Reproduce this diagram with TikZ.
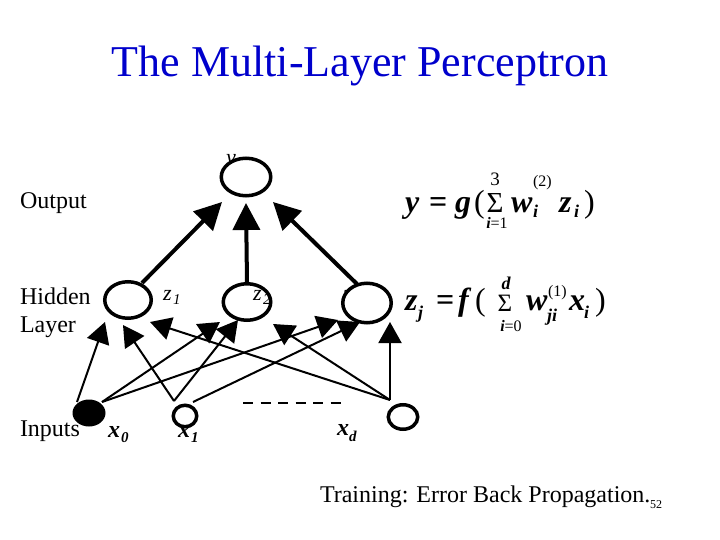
\documentclass[tikz,border=0pt]{standalone}
\usepackage{fontspec}
\setmainfont{Liberation Serif}
\usetikzlibrary{arrows.meta,calc,shapes.geometric}
\definecolor{titleblue}{RGB}{0,0,204}
\newcommand\setfs[1]{\fontsize{#1}{#1}\selectfont}
\newcommand\bi{\bfseries\itshape}
\begin{document}
\begin{tikzpicture}[x=1pt,y=-1pt,
  txt/.style={anchor=base west,inner sep=0pt,outer sep=0pt},
  ctxt/.style={anchor=base,inner sep=0pt,outer sep=0pt},
  neuron/.style={draw,ellipse,line width=3.5pt,fill=white,inner sep=0pt},
  inarrow/.style={line width=2pt,-{Triangle[length=21pt,width=23pt]}},
  outarrow/.style={line width=4pt,-{Triangle[length=27pt,width=27pt]}},
  dashline/.style={line width=2.5pt,dash pattern=on 10pt off 7.5pt},
]
\useasboundingbox (0,0) rectangle (720,540);

% title
\node[ctxt,text=titleblue] (title) at (360,77) {\setfs{44}The Multi-Layer Perceptron};

% layer labels
\node[txt] (lout) at (20,208) {\setfs{24}Output};
\node[txt] (lhid) at (20,304) {\setfs{24}Hidden};
\node[txt] (llay) at (20,332) {\setfs{24}Layer};
\node[txt] (linp) at (20,436) {\setfs{24}Inputs};

% labels partly covered by the circles
\node[txt] (ylab) at (226,165) {\setfs{22}\itshape y};
\node[txt] (z3lab) at (343,300) {\setfs{22}\itshape z};
\node[txt] (z3sub) at (353,304) {\setfs{15}\itshape 3};
\node[txt] (x0lab) at (108,437) {\setfs{24}\bi x};
\node[txt] (x0sub) at (121,442) {\setfs{15}\bi 0};
\node[txt] (x1lab) at (178,437) {\setfs{24}\bi x};
\node[txt] (x1sub) at (191,442) {\setfs{15}\bi 1};
\node[txt] (xdlab) at (337,435) {\setfs{24}\bi x};
\node[txt] (xdsub) at (349,441) {\setfs{15}\bi d};

% neurons
\node[neuron,minimum width=49.5,minimum height=37.5] (y) at (246,177) {};
\node[neuron,minimum width=46.5,minimum height=36.5] (z1) at (128,300) {};
\node[neuron,minimum width=47.5,minimum height=36.5] (z2) at (247,302) {};
\node[neuron,minimum width=48.5,minimum height=39.5] (z3) at (367,303) {};
\node[ellipse,fill=black,inner sep=0pt,minimum width=33,minimum height=27] (x0) at (89,413) {};
\node[neuron,minimum width=23.5,minimum height=21.5] (x1) at (185,416) {};
\node[neuron,minimum width=29.5,minimum height=24.5] (xd) at (403,417) {};

% hidden labels in front
\node[txt] (z1lab) at (163,300) {\setfs{22}\itshape z};
\node[txt] (z1sub) at (173,304) {\setfs{15}\itshape 1};
\node[txt] (z2lab) at (253,300) {\setfs{22}\itshape z};
\node[txt] (z2sub) at (263,304) {\setfs{15}\itshape 2};

% dashes between inputs
\coordinate (dashL) at (243,403);
\coordinate (dashR) at (342,403);
\draw[dashline] (dashL) -- (dashR);

% input -> hidden
\draw[inarrow] ($(x0)+(-12,-11)$) -- ($(z1)+(-23,22)$);
\draw[inarrow] ($(x0)+(13,-11)$) -- ($(z2)+(-27,20)$);
\draw[inarrow] ($(x0)+(13,-11)$) -- ($(z3)+(-29,17)$);
\draw[inarrow] ($(x1)+(-11,-15)$) -- ($(z1)+(-5,25)$);
\draw[inarrow] ($(x1)+(-11,-15)$) -- ($(z2)+(-9,18)$);
\draw[inarrow] ($(x1)+(8,-14)$) -- ($(z3)+(-7,19)$);
\draw[inarrow] ($(xd)+(-13,-17)$) -- ($(z1)+(22,22)$);
\draw[inarrow] ($(xd)+(-13,-17)$) -- ($(z2)+(26,22)$);
\draw[inarrow] ($(xd)+(-13,-17)$) -- ($(z3)+(23,19)$);

% hidden -> output
\draw[outarrow] ($(z1)+(14,-17)$) -- ($(y)+(-24,25)$);
\draw[outarrow] ($(z2)+(0,-20)$) -- ($(y)+(0,26)$);
\draw[outarrow] ($(z3)+(-10,-19)$) -- ($(y)+(27,25)$);

% formula 1
\node[txt] (f1y) at (405,212) {\setfs{32}\bi y};
\node[txt] (f1eq) at (429,212) {\setfs{32}\bfseries =};
\node[txt] (f1g) at (455,212) {\setfs{32}\bi g};
\node[txt] (f1lp) at (474,212) {\setfs{32}(};
\node[ctxt] (f1s) at (495,212) {\setfs{29}Σ};
\node[ctxt] (f1top) at (495,186) {\setfs{19}3};
\node[ctxt] (f1bot) at (497,229) {\setfs{16}{\bi i}=1};
\node[txt] (f1w) at (511,212) {\setfs{32}\bi w};
\node[txt] (f1sup) at (533,187) {\setfs{16}(2)};
\node[txt] (f1wsub) at (533,218) {\setfs{18}\bi i};
\node[txt] (f1z) at (559,212) {\setfs{32}\bi z};
\node[txt] (f1zsub) at (574,218) {\setfs{18}\bi i};
\node[txt] (f1rp) at (584,212) {\setfs{32})};

% formula 2
\node[txt] (f2z) at (405,310) {\setfs{32}\bi z};
\node[txt] (f2zsub) at (418,318) {\setfs{18}\bi j};
\node[txt] (f2eq) at (436,310) {\setfs{32}\bfseries =};
\node[txt] (f2f) at (458,310) {\setfs{32}\bi f};
\node[txt] (f2lp) at (475,310) {\setfs{32}(};
\node[ctxt] (f2s) at (505,311) {\setfs{25}Σ};
\node[ctxt] (f2top) at (506,289) {\setfs{18}\bi d};
\node[ctxt] (f2bot) at (511,331) {\setfs{16}{\bi i}=0};
\node[txt] (f2w) at (526,310) {\setfs{32}\bi w};
\node[txt] (f2sup) at (548,296) {\setfs{16}(1)};
\node[txt] (f2wsub) at (547,321) {\setfs{18}\bi ji};
\node[txt] (f2x) at (569,310) {\setfs{32}\bi x};
\node[txt] (f2xsub) at (584,318) {\setfs{18}\bi i};
\node[txt] (f2rp) at (595,310) {\setfs{32})};

% footer
\node[txt] (train) at (320,502) {\setfs{24}Training: Error Back Propagation.};
\node[txt] (pnum) at (650,508) {\setfs{12}52};
\end{tikzpicture}
\end{document}
